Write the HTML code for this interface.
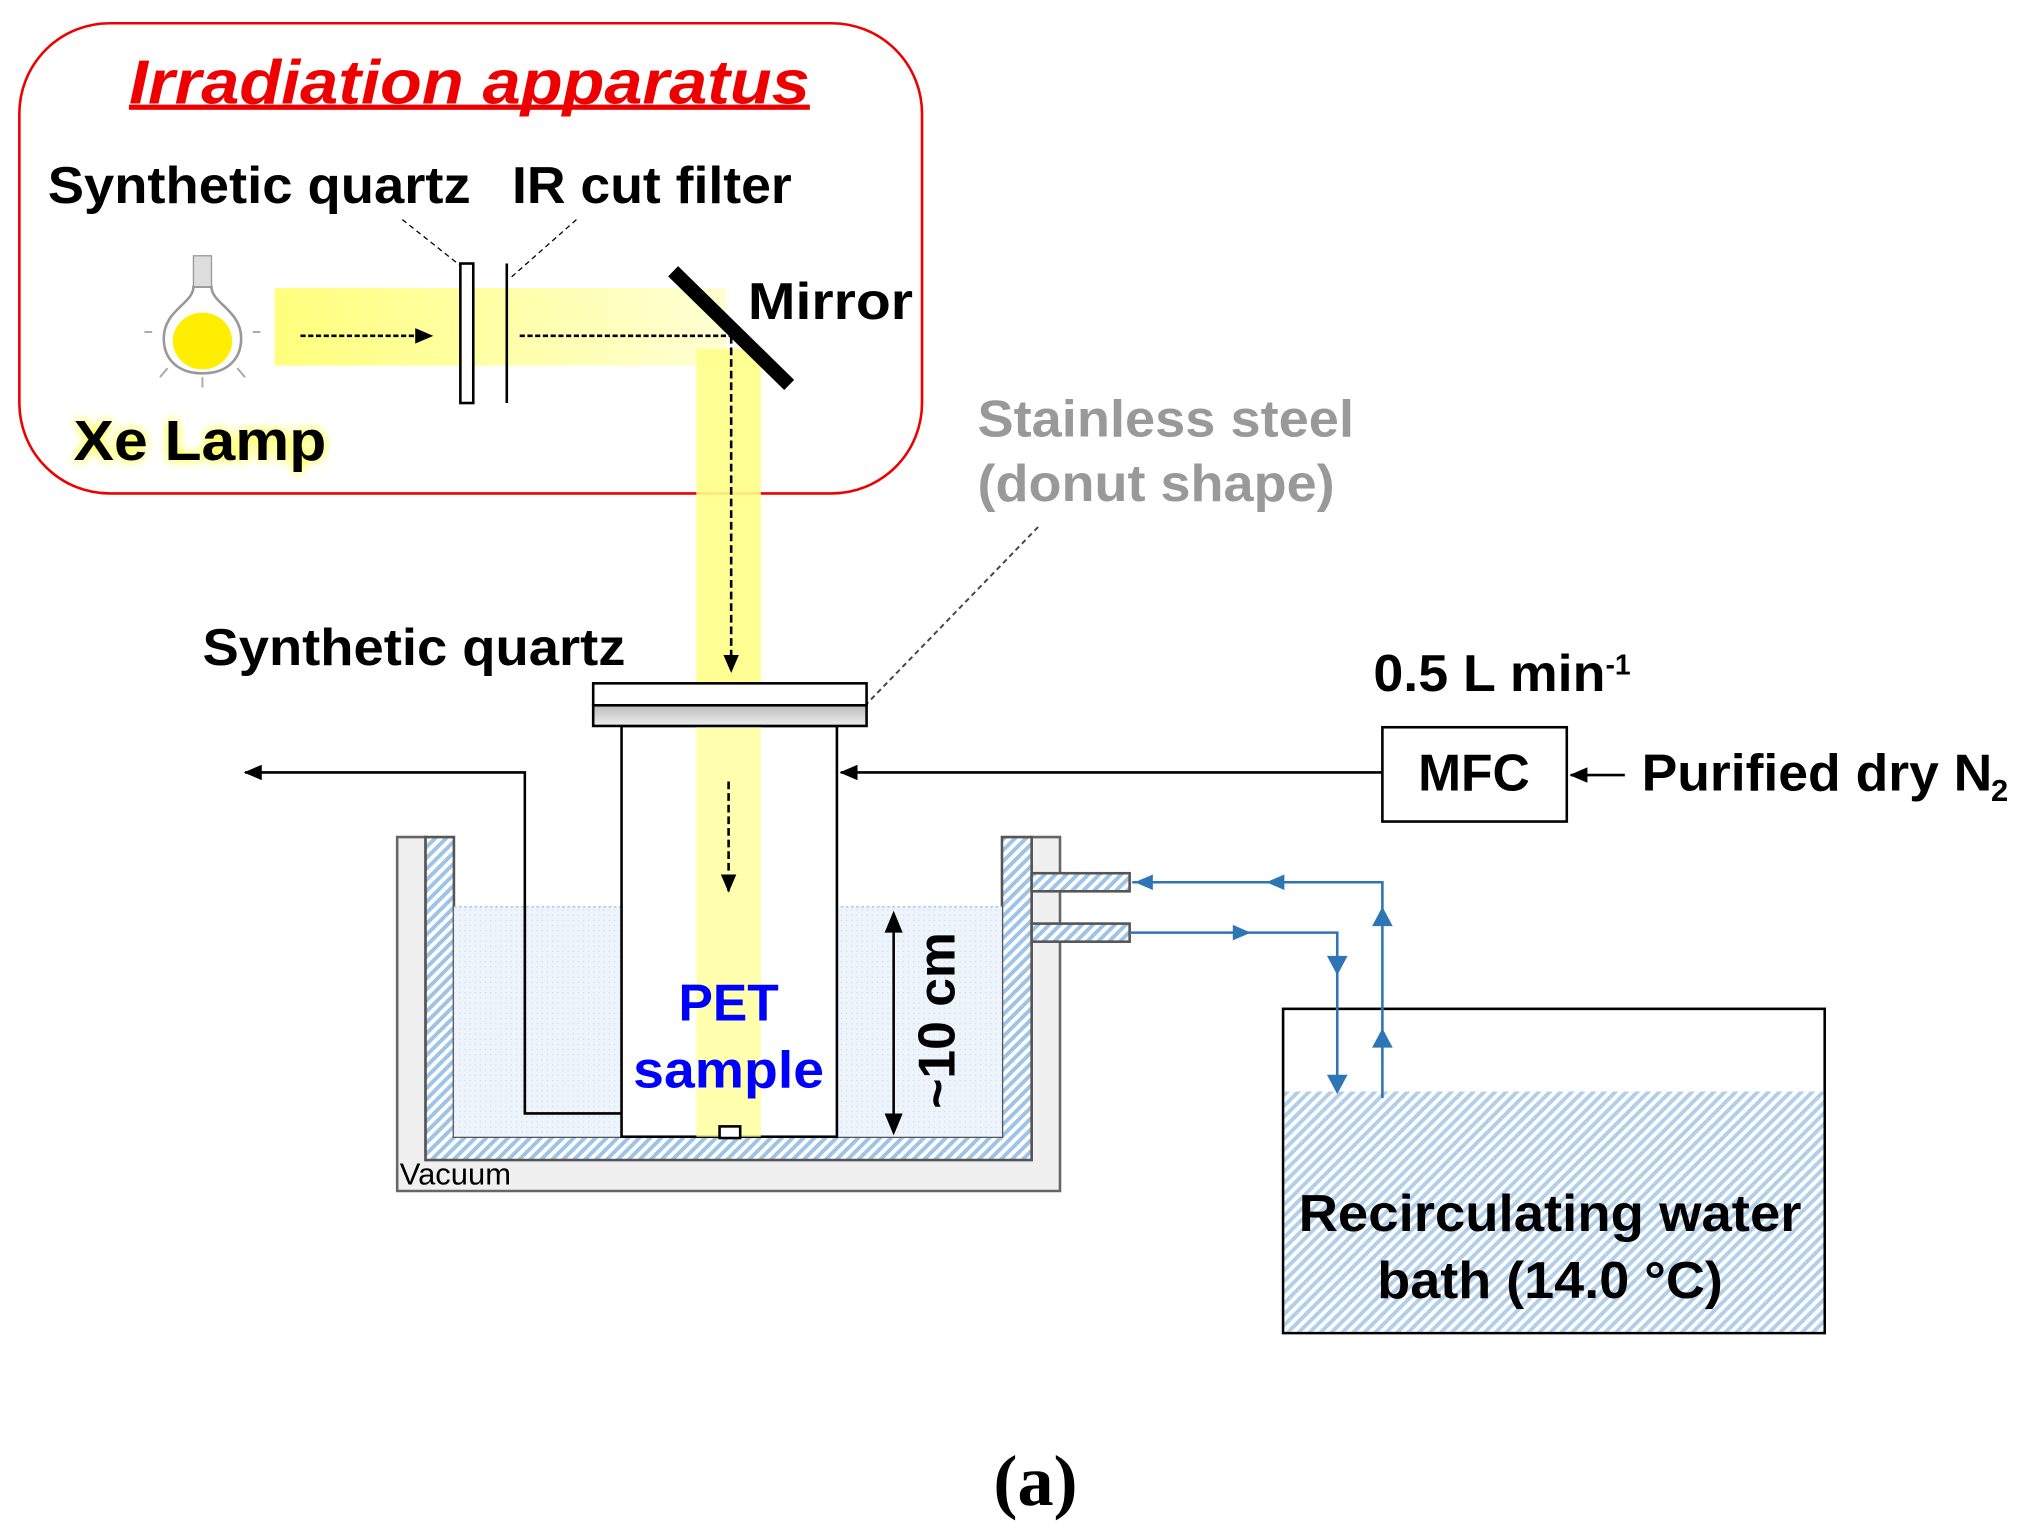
<!DOCTYPE html>
<html><head><meta charset="utf-8"><style>html,body{margin:0;padding:0;background:#fff}svg{display:block}text{font-family:"Liberation Sans",Arial,sans-serif;font-weight:bold}</style></head>
<body>
<svg width="2022" height="1532" viewBox="0 0 1568 1186" preserveAspectRatio="none" xmlns="http://www.w3.org/2000/svg">
<defs>
<pattern id="h" width="6" height="6" patternUnits="userSpaceOnUse" patternTransform="rotate(45)"><rect width="6" height="6" fill="#fff"/><rect width="3" height="6" fill="#9dc3e6"/></pattern>
<pattern id="w" width="4" height="4" patternUnits="userSpaceOnUse"><rect width="4" height="4" fill="#eef4fb"/><rect width="1" height="1" fill="#cfe0f3"/></pattern>
<linearGradient id="by" x1="0" x2="1"><stop offset="0" stop-color="#ffff66"/><stop offset="1" stop-color="#ffffcc"/></linearGradient>
<linearGradient id="gr" x1="0" x2="0" y1="0" y2="1"><stop offset="0" stop-color="#bbb"/><stop offset="1" stop-color="#eee"/></linearGradient>
<marker id="a" markerWidth="14" markerHeight="12" refX="13" refY="6" orient="auto" markerUnits="userSpaceOnUse"><path d="M0,0L14,6L0,12z" fill="#000"/></marker>
<filter id="gl"><feGaussianBlur stdDeviation="4"/></filter>
</defs>
<rect x="15" y="18" width="700" height="364" rx="70" fill="none" stroke="#e00" stroke-width="2"/>
<text x="100" y="80" font-size="48" font-style="italic" fill="#e00" textLength="528" lengthAdjust="spacingAndGlyphs">Irradiation apparatus</text>
<rect x="100" y="81" width="528" height="4" fill="#e00"/>
<text x="37" y="157" font-size="40" textLength="328" lengthAdjust="spacingAndGlyphs">Synthetic quartz</text>
<text x="397" y="157" font-size="40" textLength="217" lengthAdjust="spacingAndGlyphs">IR cut filter</text>
<rect x="213" y="223" width="350" height="60" fill="url(#by)" opacity="0.85"/>
<rect x="540" y="270" width="50" height="612" fill="#ffff88" opacity="0.9"/>
<!-- lamp -->
<path d="M150,222 C150,235 127,240 127,262 C127,280 140,289 157,289 C174,289 187,280 187,262 C187,240 164,235 164,222 Z" fill="#fff" stroke="#999" stroke-width="2"/>
<ellipse cx="157" cy="264" rx="23" ry="22" fill="#ffee00"/>
<rect x="150" y="198" width="14" height="24" fill="#ddd" stroke="#999"/>
<g stroke="#aaa" stroke-width="1.5"><line x1="118" y1="257" x2="112" y2="257"/><line x1="196" y1="257" x2="202" y2="257"/><line x1="157" y1="292" x2="157" y2="300"/><line x1="130" y1="285" x2="124" y2="292"/><line x1="184" y1="285" x2="190" y2="292"/></g>
<line x1="233" y1="260" x2="335" y2="260" stroke="#000" stroke-width="2" stroke-dasharray="4,2" marker-end="url(#a)"/>
<line x1="312" y1="170" x2="360" y2="208" stroke="#000" stroke-dasharray="4,3"/>
<line x1="447" y1="170" x2="396" y2="215" stroke="#000" stroke-dasharray="4,3"/>
<rect x="357" y="204" width="10" height="108" fill="#fff" stroke="#000" stroke-width="2"/>
<line x1="393" y1="204" x2="393" y2="312" stroke="#000" stroke-width="2"/>
<line x1="403" y1="260" x2="567" y2="260" stroke="#000" stroke-width="2" stroke-dasharray="4,2"/>
<line x1="567" y1="260" x2="567" y2="520" stroke="#000" stroke-width="2" stroke-dasharray="6,3" marker-end="url(#a)"/>
<line x1="522" y1="210" x2="612" y2="298" stroke="#000" stroke-width="11"/>
<text x="580" y="247" font-size="40" textLength="128" lengthAdjust="spacingAndGlyphs">Mirror</text>
<text x="57" y="356" font-size="44" fill="#ff0" filter="url(#gl)" textLength="196" lengthAdjust="spacingAndGlyphs">Xe Lamp</text>
<text x="57" y="356" font-size="44" textLength="196" lengthAdjust="spacingAndGlyphs">Xe Lamp</text>
<text x="758" y="338" font-size="40" fill="#999" textLength="292" lengthAdjust="spacingAndGlyphs">Stainless steel</text>
<text x="758" y="388" font-size="40" fill="#999" textLength="277" lengthAdjust="spacingAndGlyphs">(donut shape)</text>
<line x1="805" y1="408" x2="672" y2="545" stroke="#444" stroke-width="1.5" stroke-dasharray="4,3"/>
<text x="157" y="515" font-size="40" textLength="328" lengthAdjust="spacingAndGlyphs">Synthetic quartz</text>
<!-- vessel -->
<path d="M308,648 L330,648 L330,898 L800,898 L800,648 L822,648 L822,922 L308,922 Z" fill="#f0f0f0" stroke="#666" stroke-width="2"/>
<path d="M330,648 L352,648 L352,880 L777,880 L777,648 L800,648 L800,898 L330,898 Z" fill="url(#h)" stroke="#555" stroke-width="2"/>
<rect x="352" y="702" width="425" height="178" fill="url(#w)"/>
<line x1="352" y1="702" x2="777" y2="702" stroke="#9dc3e6" stroke-dasharray="2,2"/>
<rect x="800" y="676" width="76" height="14" fill="url(#h)" stroke="#555" stroke-width="2"/>
<rect x="800" y="715" width="76" height="14" fill="url(#h)" stroke="#555" stroke-width="2"/>
<rect x="482" y="562" width="167" height="318" fill="#fff" stroke="#000" stroke-width="2"/>
<rect x="540" y="562" width="50" height="318" fill="#ffff99" opacity="0.8"/>
<rect x="460" y="529" width="212" height="17" fill="#fff" stroke="#000" stroke-width="2"/>
<rect x="460" y="546" width="212" height="16" fill="url(#gr)" stroke="#000" stroke-width="2"/>
<line x1="565" y1="605" x2="565" y2="690" stroke="#000" stroke-width="2" stroke-dasharray="6,3" marker-end="url(#a)"/>
<rect x="558" y="872" width="16" height="9" fill="#fff" stroke="#000" stroke-width="2"/>
<text x="565" y="790" font-size="40" fill="#00f" text-anchor="middle">PET</text>
<text x="565" y="842" font-size="40" fill="#00f" text-anchor="middle" textLength="148" lengthAdjust="spacingAndGlyphs">sample</text>
<line x1="693" y1="712" x2="693" y2="872" stroke="#000" stroke-width="2"/>
<path d="M686,722 L693,705 L700,722Z M686,862 L693,879 L700,862Z" fill="#000"/>
<text transform="translate(740,790) rotate(-90)" font-size="40" text-anchor="middle">~10 cm</text>
<text x="310" y="917" font-size="24" style="font-weight:normal">Vacuum</text>
<!-- gas lines -->
<polyline points="482,862 407,862 407,598 190,598" fill="none" stroke="#000" stroke-width="2" marker-end="url(#a)"/>
<line x1="1072" y1="598" x2="652" y2="598" stroke="#000" stroke-width="2" marker-end="url(#a)"/>
<rect x="1072" y="563" width="143" height="73" fill="#fff" stroke="#000" stroke-width="2"/>
<text x="1143" y="612" font-size="40" text-anchor="middle">MFC</text>
<line x1="1260" y1="600" x2="1218" y2="600" stroke="#000" stroke-width="2" marker-end="url(#a)"/>
<text x="1273" y="612" font-size="40" textLength="272" lengthAdjust="spacingAndGlyphs">Purified dry N</text>
<text x="1544" y="620" font-size="24">2</text>
<text x="1065" y="535" font-size="40" textLength="180" lengthAdjust="spacingAndGlyphs">0.5 L min</text>
<text x="1245" y="522" font-size="22">-1</text>
<!-- water bath -->
<rect x="995" y="781" width="420" height="251" fill="#fff" stroke="#000" stroke-width="2"/>
<rect x="996" y="845" width="418" height="186" fill="url(#h)" opacity="0.8"/>
<text x="1202" y="953" font-size="40" text-anchor="middle" textLength="390" lengthAdjust="spacingAndGlyphs">Recirculating water</text>
<text x="1202" y="1005" font-size="40" text-anchor="middle" textLength="268" lengthAdjust="spacingAndGlyphs">bath (14.0 °C)</text>
<g stroke="#2e75b6" stroke-width="2" fill="none"><polyline points="1072,850 1072,683 878,683"/><polyline points="876,722 1037,722 1037,845"/></g>
<g fill="#2e75b6"><path d="M880,683 L894,677 L894,689Z M982,683 L996,677 L996,689Z M1064,717 L1072,702 L1080,717Z M1064,811 L1072,796 L1080,811Z M970,722 L956,716 L956,728Z M1029,740 L1037,755 L1045,740Z M1029,832 L1037,847 L1045,832Z"/></g>
<text x="803" y="1165" font-size="56" text-anchor="middle" style="font-family:'Liberation Serif',serif">(a)</text>
</svg>
</body></html>
